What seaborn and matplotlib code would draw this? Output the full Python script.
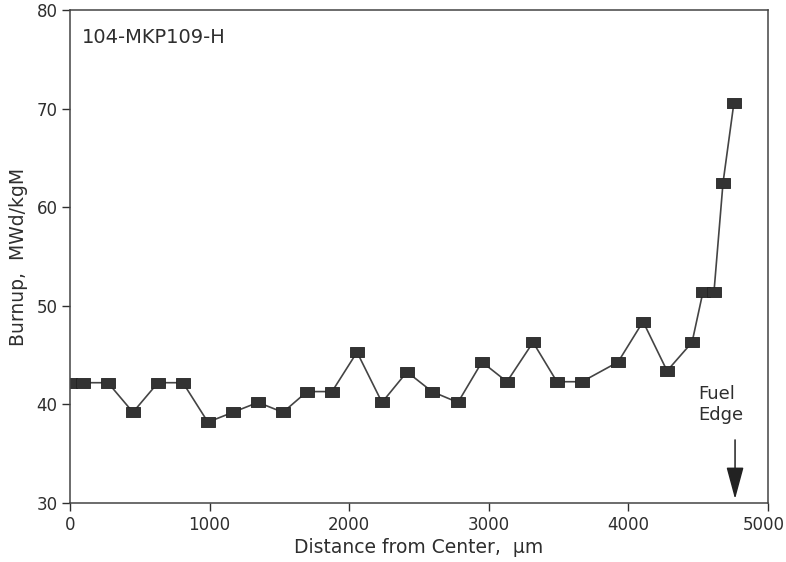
import numpy as np
import pandas as pd
import matplotlib
matplotlib.use("Agg")
import matplotlib.pyplot as plt
import matplotlib.transforms as mtransforms
import seaborn as sns

# Data
distance = [0, 93, 272, 451, 630, 809, 988, 1167, 1347, 1526, 1698, 1877,
            2056, 2235, 2414, 2593, 2779, 2951, 3130, 3317, 3488, 3668,
            3926, 4105, 4277, 4456, 4534, 4613, 4678, 4756]
burnup = [42.2, 42.2, 42.2, 39.2, 42.2, 42.2, 38.2, 39.2, 40.2, 39.2, 41.3, 41.3,
          45.3, 40.2, 43.3, 41.3, 40.2, 44.3, 42.3, 46.3, 42.3, 42.3,
          44.3, 48.4, 43.4, 46.3, 51.4, 51.4, 62.5, 70.6]
x_ticks = [0, 1000, 2000, 3000, 4000, 5000]
y_ticks = [30, 40, 50, 60, 70, 80]
sample_label = "104-MKP109-H"
x_label = "Distance from Center,  µm"
y_label = "Burnup,  MWd/kgM"

sns.set_style("ticks")
plt.rcParams['font.family'] = ['DejaVu Sans']
ink = "#2e2e2e"

fig = plt.figure(figsize=(7.86, 5.62), dpi=100)
ax = fig.add_axes([70/786, 1-503/562, (768-70)/786, (503-10)/562])

df = pd.DataFrame({"distance": distance, "burnup": burnup})
rect = [(-1, -0.68), (1, -0.68), (1, 0.68), (-1, 0.68), (-1, -0.68)]
sns.lineplot(data=df, x="distance", y="burnup", ax=ax, color="#444444",
             linewidth=1.2, marker=rect, markersize=9.6,
             markerfacecolor="#333333", markeredgecolor="#222222",
             markeredgewidth=0.6, sort=False)

ax.set_xlim(0, 5000)
ax.set_ylim(30, 80)
ax.set_xticks(x_ticks)
ax.set_yticks(y_ticks)
ax.set_xticklabels([str(v) for v in x_ticks])
ax.set_yticklabels([str(v) for v in y_ticks])
ax.tick_params(direction="out", length=6, width=1, colors=ink, labelsize=12, pad=3)
for s in ax.spines.values():
    s.set_visible(True)
    s.set_color("#444444")
    s.set_linewidth(1.1)

# nudge the last x tick label left so it stays within the figure
last = ax.get_xticklabels()[-1]
last.set_transform(last.get_transform() +
                   mtransforms.ScaledTranslation(-4/100, 0, fig.dpi_scale_trans))

ax.set_xlabel(x_label, fontsize=13.5, color=ink, labelpad=3)
ax.set_ylabel(y_label, fontsize=13.5, color=ink, labelpad=6)

ax.text(0.017, 0.945, sample_label, transform=ax.transAxes, fontsize=14,
        color=ink, ha="left", va="center")

ax.text(4500, 40.0, "Fuel\nEdge", fontsize=13, color=ink, ha="left",
        va="center", linespacing=1.25)
ax.annotate("", xy=(4764, 30.4), xytext=(4764, 36.4),
            arrowprops=dict(arrowstyle="-|>,head_length=1.0,head_width=0.27",
                            mutation_scale=20, color="#222222", lw=1.1,
                            shrinkA=0, shrinkB=0))

fig.savefig("out.png", dpi=100, facecolor="white")
